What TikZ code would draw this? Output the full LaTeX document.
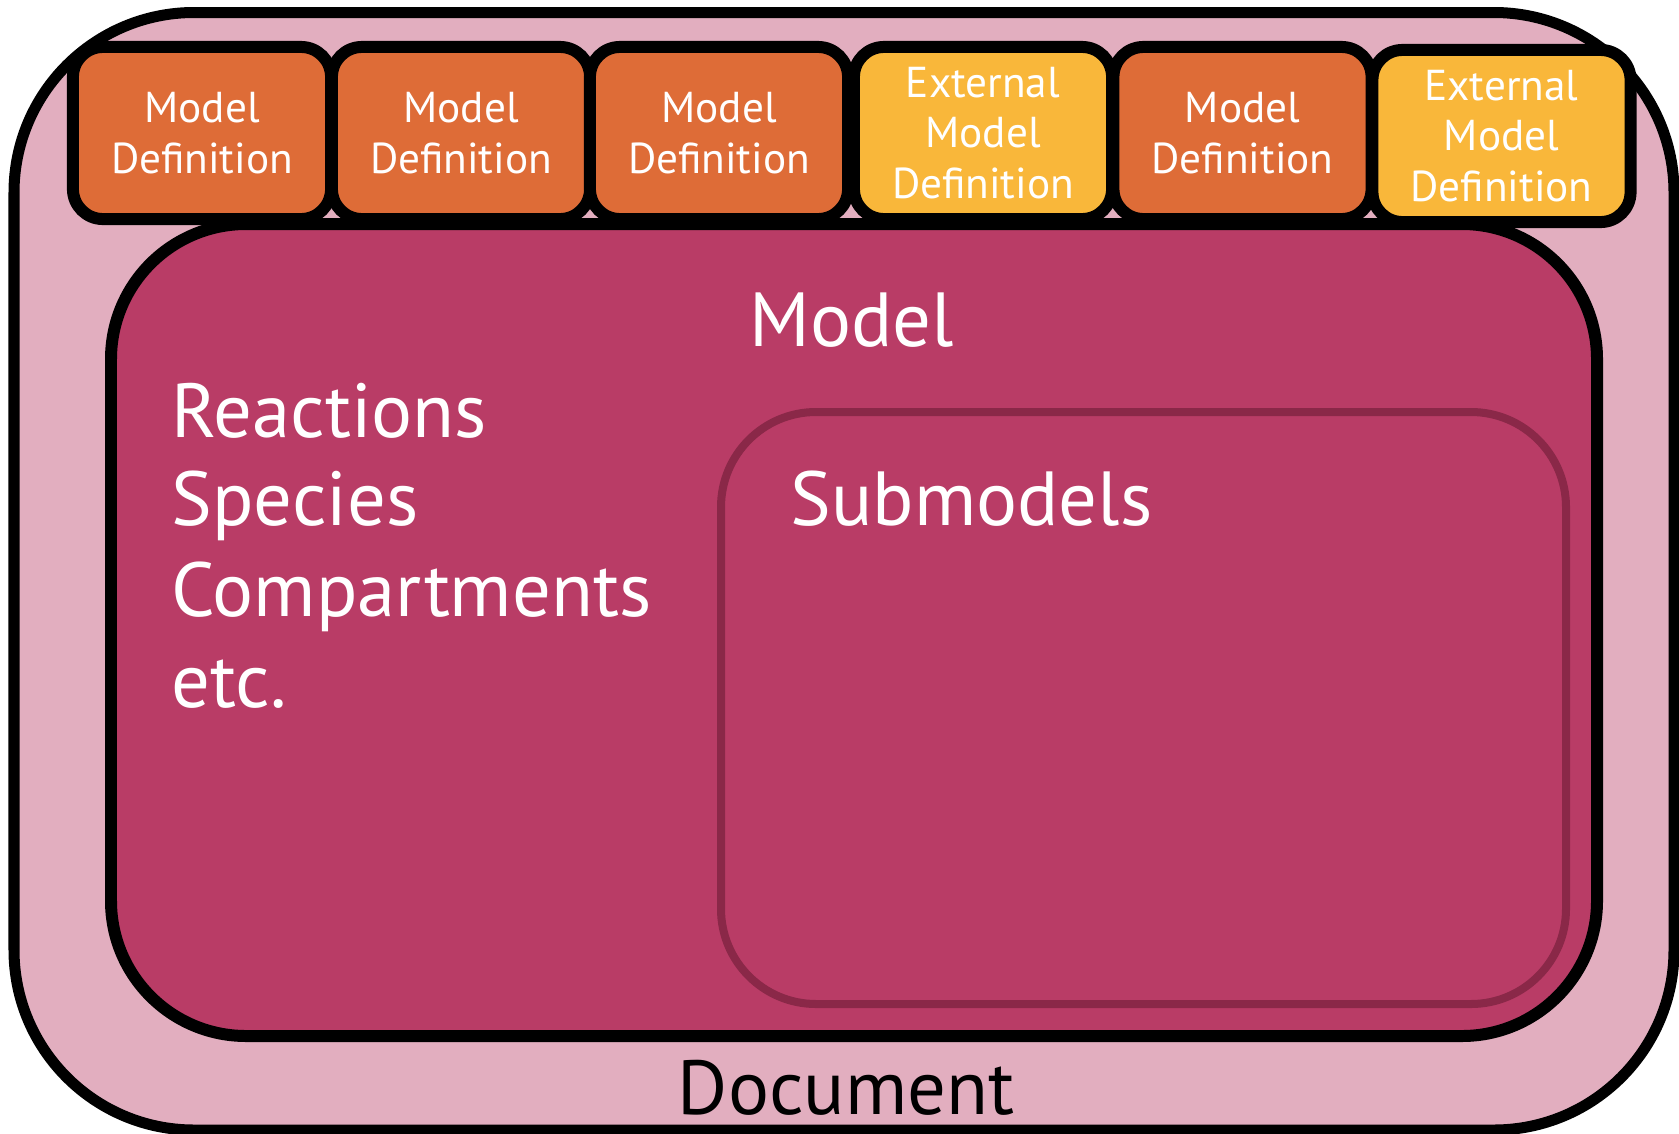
\documentclass[tikz,border=0pt]{standalone}
\usepackage{fontspec}
\setmainfont{PT Sans}
\definecolor{docpink}{HTML}{E2AEBF}
\definecolor{modelmag}{HTML}{B93C66}
\definecolor{submag}{HTML}{8A2848}
\definecolor{defor}{HTML}{DE6C37}
\definecolor{extyel}{HTML}{F9B73A}
\tikzset{
  docbox/.style={draw=black, fill=docpink, line width=3.13pt, rounded corners=1.8cm},
  modelbox/.style={draw=black, fill=modelmag, line width=3.41pt, rounded corners=1.35cm},
  subbox/.style={draw=submag, line width=2.28pt, rounded corners=0.95cm},
  defbox/.style={draw=black, line width=3.41pt, rounded corners=0.3cm,
    minimum width=2.58cm, minimum height=1.72cm, inner sep=0pt, align=center,
    text=white, font=\fontsize{12.3}{14.3}\selectfont},
  mdef/.style={defbox, fill=defor},
  extdef/.style={defbox, fill=extyel},
  bigtext/.style={inner sep=0pt, text=white, font=\fontsize{21.8}{25.6}\selectfont},
}
\begin{document}
\begin{tikzpicture}[x=0.01cm, y=-0.01cm]
\useasboundingbox (0,0) rectangle (1679,1133);
% document
\draw[docbox] (14,12.5) rectangle (1674,1130);
% model
\draw[modelbox] (111,224) rectangle (1597,1036);
% submodels
\draw[subbox] (721,412) rectangle (1566,1004);
% definitions
\node[mdef]   (d1) at (202,133)   {Model\\Definition};
\node[mdef]   (d2) at (461,133)   {Model\\Definition};
\node[mdef]   (d3) at (719,133)   {Model\\Definition};
\node[extdef] (d4) at (983,133)   {External\\Model\\Definition};
\node[mdef]   (d5) at (1242.5,133) {Model\\Definition};
\node[extdef] (d6) at (1501.5,136) {External\\Model\\Definition};
% texts
\node[bigtext, anchor=base] (tmodel) at (852,346) {Model};
\node[bigtext, anchor=base west] (treac) at (171,437) {Reactions};
\node[bigtext, anchor=base west] (tspec) at (171,525) {Species};
\node[bigtext, anchor=base west] (tcomp) at (171,616) {Compartments};
\node[bigtext, anchor=base west] (tetc) at (171,707) {etc.};
\node[bigtext, anchor=base west] (tsub) at (790,525) {Submodels};
\node[bigtext, anchor=base, text=black] (tdoc) at (846,1114) {Document};
\end{tikzpicture}
\end{document}
